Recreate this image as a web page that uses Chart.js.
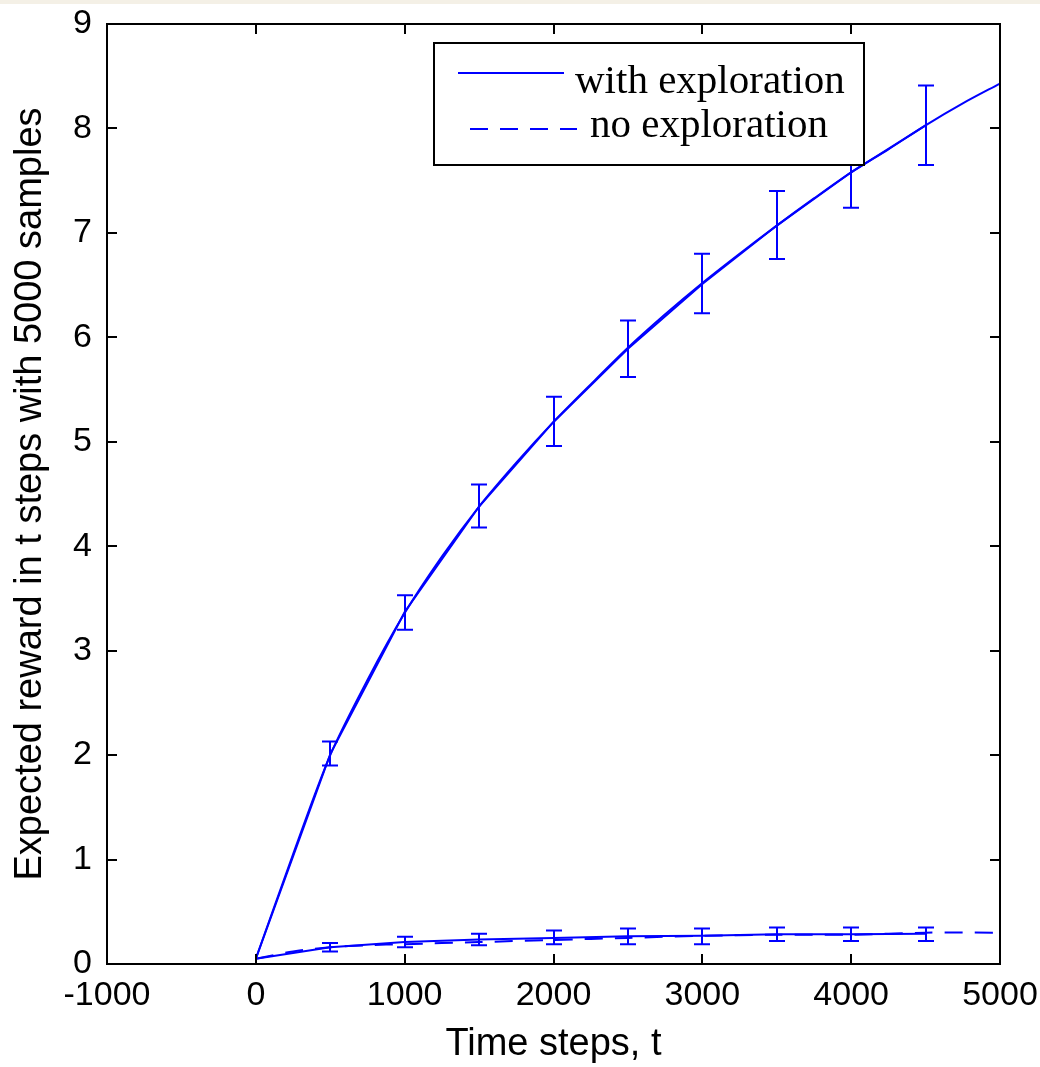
<!DOCTYPE html>
<html>
<head>
<meta charset="utf-8">
<script src="https://cdn.jsdelivr.net/npm/chart.js@4.4.1/dist/chart.umd.min.js"></script>
<style>
  html, body { margin: 0; padding: 0; background: #ffffff; }
  #wrap { width: 1040px; height: 1067px; position: relative; }
</style>
</head>
<body>
<div id="wrap"><canvas id="c" width="1040" height="1067"></canvas></div>
<script>
// ---- Data ----
const xTickValues = [-1000, 0, 1000, 2000, 3000, 4000, 5000];
const yTickValues = [0, 1, 2, 3, 4, 5, 6, 7, 8, 9];

const withSteps  = [0, 250, 500, 750, 1000, 1250, 1500, 1750, 2000, 2250, 2500, 2750, 3000, 3250, 3500, 3750, 4000, 4250, 4500, 4750, 5000];
const withReward = [0.05, 1.05, 2.0, 2.72, 3.36, 3.9, 4.38, 4.8, 5.19, 5.55, 5.9, 6.22, 6.52, 6.8, 7.07, 7.33, 7.58, 7.8, 8.03, 8.24, 8.43];

const noSteps  = [0, 250, 500, 750, 1000, 1500, 2000, 2500, 3000, 3500, 4000, 4500, 5000];
const noReward = [0.05, 0.12, 0.16, 0.18, 0.19, 0.21, 0.23, 0.25, 0.27, 0.28, 0.28, 0.30, 0.30];

const errSteps    = [0, 500, 1000, 1500, 2000, 2500, 3000, 3500, 4000, 4500];
const withErrMid  = [0.05, 2.01, 3.37, 4.38, 5.19, 5.89, 6.51, 7.07, 7.58, 8.03];
const withErrLow  = [0.05, 1.90, 3.20, 4.18, 4.96, 5.62, 6.23, 6.75, 7.24, 7.65];
const withErrHigh = [0.05, 2.13, 3.53, 4.59, 5.43, 6.16, 6.80, 7.40, 7.92, 8.41];
const noErrMid    = [0.05, 0.16, 0.21, 0.235, 0.25, 0.265, 0.27, 0.285, 0.285, 0.29];
const noErrLow    = [0.05, 0.12, 0.16, 0.18, 0.19, 0.19, 0.19, 0.22, 0.22, 0.22];
const noErrHigh   = [0.05, 0.20, 0.26, 0.29, 0.32, 0.34, 0.34, 0.35, 0.35, 0.35];

const seriesLabels = ['with exploration', 'no exploration'];
const xTitle = 'Time steps, t';
const yTitle = 'Expected reward in t steps with 5000 samples';

// ---- Build library structures ----
const toPts = (xs, ys) => xs.map((x, i) => ({ x: x, y: ys[i] }));
const BLUE = '#0000ff';

const datasets = [
  { label: seriesLabels[0], data: toPts(withSteps, withReward), borderColor: BLUE, borderWidth: 2, pointRadius: 0, tension: 0.3, fill: false },
  { label: seriesLabels[1], data: toPts(noSteps, noReward), borderColor: BLUE, borderWidth: 2, borderDash: [18, 12], pointRadius: 0, tension: 0.3, fill: false },
  { label: '_errWith', data: toPts(errSteps, withErrMid), borderColor: BLUE, borderWidth: 2, pointRadius: 0, tension: 0, fill: false,
    errLow: withErrLow, errHigh: withErrHigh, capHalf: 8 },
  { label: '_errNo', data: toPts(errSteps, noErrMid), borderColor: BLUE, borderWidth: 2, pointRadius: 0, tension: 0, fill: false,
    errLow: noErrLow, errHigh: noErrHigh, capHalf: 8 }
];

const errorBarPlugin = {
  id: 'errorBars',
  afterDatasetsDraw(chart) {
    const ctx = chart.ctx, xs = chart.scales.x, ys = chart.scales.y;
    ctx.save();
    ctx.strokeStyle = BLUE;
    ctx.lineWidth = 2;
    chart.data.datasets.forEach(ds => {
      if (!ds.errLow) return;
      ds.data.forEach((p, i) => {
        const lo = ds.errLow[i], hi = ds.errHigh[i];
        if (hi - lo <= 0) return;
        const px = Math.round(xs.getPixelForValue(p.x));
        const yl = ys.getPixelForValue(lo), yh = ys.getPixelForValue(hi);
        ctx.beginPath();
        ctx.moveTo(px, yl); ctx.lineTo(px, yh);
        ctx.moveTo(px - ds.capHalf, yl); ctx.lineTo(px + ds.capHalf, yl);
        ctx.moveTo(px - ds.capHalf, yh); ctx.lineTo(px + ds.capHalf, yh);
        ctx.stroke();
      });
    });
    ctx.restore();
  }
};

const boxPlugin = {
  id: 'boxAndTicks',
  beforeDraw(chart) {
    const ctx = chart.ctx;
    ctx.save();
    ctx.fillStyle = '#ffffff';
    ctx.fillRect(0, 0, chart.width, chart.height);
    ctx.fillStyle = '#f4f0e6';
    ctx.fillRect(0, 0, chart.width, 4);
    ctx.restore();
  },
  afterDatasetsDraw(chart) {
    const ctx = chart.ctx, a = chart.chartArea, xs = chart.scales.x, ys = chart.scales.y;
    const tl = 10;
    ctx.save();
    ctx.strokeStyle = '#000000';
    ctx.lineWidth = 2;
    ctx.beginPath();
    xTickValues.forEach(v => {
      const px = Math.round(xs.getPixelForValue(v));
      ctx.moveTo(px, a.bottom); ctx.lineTo(px, a.bottom - tl);
      ctx.moveTo(px, a.top); ctx.lineTo(px, a.top + tl);
    });
    yTickValues.forEach(v => {
      const py = Math.round(ys.getPixelForValue(v));
      ctx.moveTo(a.left, py); ctx.lineTo(a.left + tl, py);
      ctx.moveTo(a.right, py); ctx.lineTo(a.right - tl, py);
    });
    ctx.stroke();
    ctx.strokeRect(a.left, a.top, a.right - a.left, a.bottom - a.top);
    ctx.restore();
  },
  afterDraw(chart) {
    // MATLAB-style legend box (opaque, drawn over the data)
    const ctx = chart.ctx, a = chart.chartArea;
    const bx = a.right - 566, by = a.top + 19, bw = 430, bh = 122;
    ctx.save();
    ctx.fillStyle = '#ffffff';
    ctx.fillRect(bx, by, bw, bh);
    ctx.strokeStyle = '#000000';
    ctx.lineWidth = 2;
    ctx.strokeRect(bx, by, bw, bh);
    ctx.strokeStyle = BLUE;
    ctx.lineWidth = 2;
    ctx.beginPath();
    ctx.moveTo(bx + 24, by + 30); ctx.lineTo(bx + 130, by + 30);
    ctx.stroke();
    ctx.setLineDash([18, 12]);
    ctx.beginPath();
    ctx.moveTo(bx + 36, by + 86); ctx.lineTo(bx + 143, by + 86);
    ctx.stroke();
    ctx.setLineDash([]);
    ctx.fillStyle = '#000000';
    ctx.font = '41px "Liberation Serif", serif';
    ctx.textBaseline = 'alphabetic';
    ctx.textAlign = 'left';
    ctx.fillText(chart.data.datasets[0].label, bx + 141, by + 50);
    ctx.fillText(chart.data.datasets[1].label, bx + 156, by + 94);
    ctx.restore();
  }
};

const tickFont = { family: '"Liberation Sans", Arial, sans-serif', size: 34 };
const titleFont = { family: '"Liberation Sans", Arial, sans-serif', size: 38 };
const plainNum = v => String(v);

new Chart(document.getElementById('c'), {
  type: 'line',
  data: { datasets: datasets },
  options: {
    responsive: false,
    animation: false,
    devicePixelRatio: 1,
    layout: { padding: { top: 24, right: 40, left: 0, bottom: 0 } },
    plugins: { legend: { display: false }, tooltip: { enabled: false } },
    scales: {
      x: {
        type: 'linear',
        min: -1000, max: 5000,
        grid: { display: false, drawTicks: false },
        border: { display: false },
        afterBuildTicks: s => { s.ticks = xTickValues.map(v => ({ value: v })); },
        afterFit: s => { s.height = 103; s.paddingLeft = 0; s.paddingRight = 0; },
        ticks: { color: '#000', font: tickFont, padding: 11, maxRotation: 0, autoSkip: false, callback: plainNum },
        title: { display: true, text: xTitle, color: '#000', font: titleFont, padding: { top: 0, bottom: 0 } }
      },
      y: {
        type: 'linear',
        min: 0, max: 9,
        grid: { display: false, drawTicks: false },
        border: { display: false },
        afterBuildTicks: s => { s.ticks = yTickValues.map(v => ({ value: v })); },
        afterFit: s => { s.width = 107; s.paddingTop = 0; s.paddingBottom = 0; },
        ticks: { color: '#000', font: tickFont, padding: 15, autoSkip: false, callback: plainNum },
        title: { display: true, text: yTitle, color: '#000', font: titleFont, padding: { top: 8, bottom: 0 } }
      }
    }
  },
  plugins: [boxPlugin, errorBarPlugin]
});
</script>
</body>
</html>
